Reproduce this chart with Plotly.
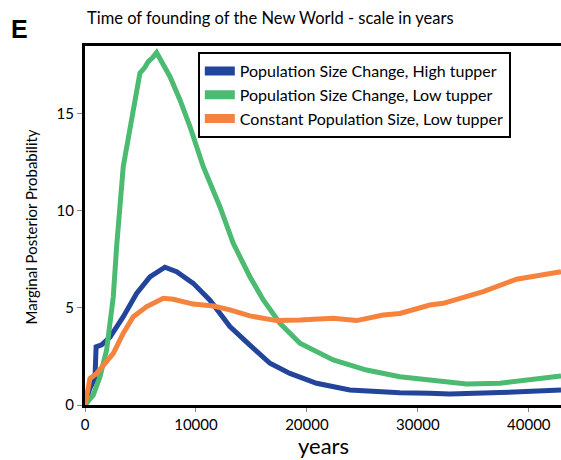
import plotly.graph_objects as go

# Data
blue_x = [0, 400, 900, 1000, 1500, 2250, 3450, 4650, 5850, 7200, 8260, 9760, 11260, 13060,
          14860, 16670, 18470, 20870, 23870, 26880, 28380, 31080, 32880, 37390, 42900]
blue_y = [0, 0.8, 1.4, 3.0, 3.1, 3.5, 4.55, 5.75, 6.6, 7.1, 6.87, 6.27, 5.4, 4.04,
          3.09, 2.15, 1.63, 1.12, 0.77, 0.64, 0.63, 0.6, 0.57, 0.64, 0.77]

green_x = [0, 750, 1350, 1950, 2550, 2850, 3450, 4200, 4950, 5400, 5700, 6100, 6450, 7660, 8560, 9460,
           10660, 12160, 13360, 14860, 16070, 17570, 19370, 22370, 25380, 28380, 31080,
           34390, 37390, 38500, 40000, 42900]
green_y = [0, 0.52, 1.46, 2.84, 5.58, 8.16, 12.3, 14.86, 17.1, 17.4, 17.7, 17.9, 18.16, 16.92, 15.72, 14.35,
           12.28, 10.22, 8.33, 6.61, 5.41, 4.21, 3.18, 2.32, 1.8, 1.46, 1.29,
           1.08, 1.12, 1.2, 1.35, 1.5]

orange_x = [0, 450, 1050, 1800, 2550, 3450, 4350, 5560, 7060, 7960, 9760, 11560, 13060, 14860,
            17270, 19370, 22370, 24470, 26880, 28380, 31080, 32280, 35890, 38890, 42900]
orange_y = [0, 1.37, 1.63, 2.15, 2.66, 3.7, 4.55, 5.07, 5.5, 5.45, 5.2, 5.1, 4.9, 4.59,
            4.35, 4.38, 4.47, 4.35, 4.64, 4.72, 5.15, 5.24, 5.84, 6.48, 6.87]

names = ["Population Size Change, High tupper",
         "Population Size Change, Low tupper",
         "Constant Population Size, Low tupper"]
colors = ["#22449A", "#4CBB72", "#F5833D"]

x_ticks = [0, 10000, 20000, 30000, 40000]
y_ticks = [0, 5, 10, 15]

FONT = "Lato"

fig = go.Figure()
series = [(blue_x, blue_y), (green_x, green_y), (orange_x, orange_y)]
for (xs, ys), nm, c in zip(series, names, colors):
    fig.add_trace(go.Scatter(x=xs, y=ys, mode="lines", name=nm, legendgroup=nm,
                             showlegend=False, line=dict(color=c, width=5)))
# legend entries with thick swatches
for nm, c in zip(names, colors):
    fig.add_trace(go.Scatter(x=[None], y=[None], mode="lines", name=nm, legendgroup=nm,
                             line=dict(color=c, width=9)))

fig.update_layout(
    width=561, height=460,
    margin=dict(l=85, r=0, t=46, b=55, autoexpand=False),
    paper_bgcolor="white", plot_bgcolor="white",
    font=dict(family=FONT, size=14, color="black"),
    showlegend=True,
    legend=dict(x=0.237, y=0.983, xanchor="left", yanchor="top",
                bgcolor="white", bordercolor="black", borderwidth=2,
                font=dict(size=16, family=FONT), tracegroupgap=0),
    xaxis=dict(range=[0, 42900], tickvals=x_ticks, ticktext=[str(v) for v in x_ticks],
               showline=True, linecolor="black", linewidth=3, mirror=True,
               showgrid=False, zeroline=False, ticks="outside", ticklen=4,
               tickcolor="#888", tickfont=dict(size=15), automargin=False),
    yaxis=dict(range=[0, 18.5], tickvals=y_ticks, ticktext=[str(v) for v in y_ticks],
               showline=True, linecolor="black", linewidth=3,
               showgrid=False, zeroline=False, ticks="outside", ticklen=5,
               tickcolor="#888", tickfont=dict(size=15), automargin=False),
    annotations=[
        dict(text="Time of founding of the New World - scale in years", xref="paper", yref="paper",
             x=0.0, y=1.0, yshift=28, xanchor="left", yanchor="middle", showarrow=False,
             font=dict(size=16.5, family=FONT)),
        dict(text="<b>E</b>", xref="paper", yref="paper", x=-0.16, y=1.0, yshift=17,
             xanchor="left", yanchor="middle", showarrow=False,
             font=dict(size=25, family="Liberation Sans")),
        dict(text="years", xref="paper", yref="paper", x=0.5, y=0, yshift=-40,
             xanchor="center", yanchor="middle", showarrow=False,
             font=dict(size=22, family=FONT)),
        dict(text="Marginal Posterior Probability", xref="paper", yref="paper",
             x=0, xshift=-55, y=0.5, yshift=-2, textangle=-90,
             xanchor="center", yanchor="middle", showarrow=False,
             font=dict(size=15, family=FONT)),
    ],
)

fig.write_html("out.html", config={"displayModeBar": False},
               post_script="document.body.style.margin='0px';")
